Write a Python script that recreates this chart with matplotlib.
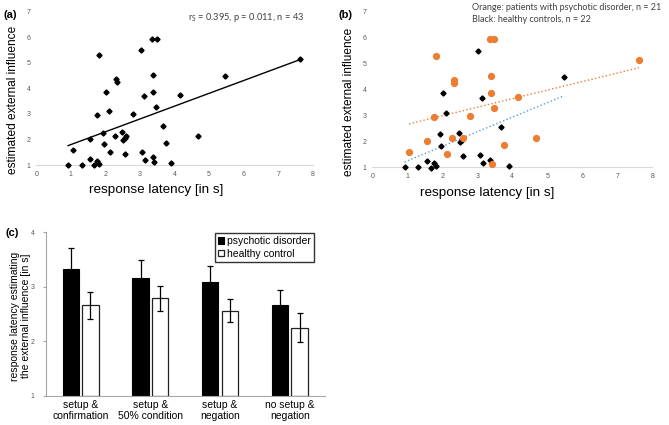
import numpy as np
import matplotlib
matplotlib.use("Agg")
import matplotlib.pyplot as plt

# ---------------- data ----------------
patients_x = [1.05, 1.56, 1.75, 1.81, 2.13, 2.29, 2.32, 2.34, 2.60, 2.80,
              3.36, 3.48, 3.39, 3.38, 3.41, 3.47, 3.76, 4.16, 4.69, 7.62]
patients_y = [1.60, 2.03, 2.95, 5.31, 1.50, 2.14, 4.35, 4.26, 2.12, 2.98,
              5.95, 5.95, 4.51, 3.87, 1.13, 3.28, 1.87, 3.73, 2.13, 5.13]
controls_x = [0.92, 1.31, 1.55, 1.68, 1.75, 1.82, 1.94, 1.96, 2.01, 2.10,
              2.49, 2.51, 2.57, 2.58, 3.03, 3.07, 3.13, 3.15, 3.37, 3.68, 3.90, 5.47]
controls_y = [1.00, 1.00, 1.24, 0.99, 1.17, 1.05, 2.27, 1.82, 3.85, 3.11,
              2.31, 1.96, 2.05, 1.45, 5.50, 1.49, 3.69, 1.18, 1.30, 2.54, 1.06, 4.50]

conditions = ["setup &\nconfirmation", "setup &\n50% condition", "setup &\nnegation", "no setup &\nnegation"]
psych_mean = [3.33, 3.16, 3.08, 2.67]
psych_err = [0.38, 0.34, 0.30, 0.27]
healthy_mean = [2.66, 2.79, 2.56, 2.25]
healthy_err = [0.25, 0.23, 0.21, 0.26]

# ---------------- style ----------------
plt.rcParams['font.family'] = ['Liberation Sans', 'DejaVu Sans']
TICK_C = '#595959'
SPINE_C = '#D9D9D9'
ORANGE = '#ED7D31'
BLUE = '#5B9BD5'

fig = plt.figure(figsize=(6.69, 4.25), dpi=100)
W, H = 669, 425

def ax_px(x0, x1, ytop, ybot):
    return fig.add_axes([x0 / W, 1 - ybot / H, (x1 - x0) / W, (ybot - ytop) / H])

def style_scatter(ax, xlab_x, ylab_x, ylab_y):
    ax.set_xlim(0, 8)
    ax.set_ylim(1, 7)
    ax.set_xticks(range(0, 9))
    ax.set_yticks(range(1, 8))
    for s in ['top', 'right', 'left']:
        ax.spines[s].set_visible(False)
    ax.spines['bottom'].set_color(SPINE_C)
    ax.spines['bottom'].set_linewidth(0.8)
    ax.tick_params(length=0, labelsize=5, colors=TICK_C, pad=4)
    ax.set_xlabel("response latency [in s]", fontsize=9.7, labelpad=5)
    ax.set_ylabel("estimated external influence", fontsize=8.6)
    ax.xaxis.label.set_x(xlab_x)
    ax.yaxis.set_label_coords(ylab_x, ylab_y)
    ax.patch.set_alpha(0)

all_x = np.array(patients_x + controls_x)
all_y = np.array(patients_y + controls_y)

# ---------------- panel (a) ----------------
axa = ax_px(36.3, 312.7, 11.7, 165)
style_scatter(axa, 0.433, -0.063, 0.424)
axa.plot(all_x, all_y, 'D', color='black', markersize=2.6, clip_on=False, zorder=3)
k, b = np.polyfit(all_x, all_y, 1)
xx = np.array([all_x.min(), all_x.max()])
axa.plot(xx, k * xx + b, '-', color='black', linewidth=1.0)
axa.text(0.97, 0.965, r"r$_\mathregular{S}$ = 0.395, p = 0.011, n = 43", transform=axa.transAxes,
         ha='right', va='center', fontsize=6.7, color='#404040', family='Lato')
fig.text(3 / W, 1 - 15 / H, "(a)", fontsize=8, fontweight='bold', va='center')

# ---------------- panel (b) ----------------
axb = ax_px(372.3, 652.3, 11.7, 167.3)
style_scatter(axb, 0.41, -0.062, 0.423)
px, py = np.array(patients_x), np.array(patients_y)
cx, cy = np.array(controls_x), np.array(controls_y)
axb.plot(cx, cy, 'D', color='black', markersize=2.6, clip_on=False, zorder=3)
axb.plot(px, py, 'o', color=ORANGE, markersize=4.2, clip_on=False, zorder=4)
k1, b1 = np.polyfit(px, py, 1)
xx1 = np.array([px.min(), px.max()])
axb.plot(xx1, k1 * xx1 + b1, ':', color=ORANGE, linewidth=1.0)
k2, b2 = np.polyfit(cx, cy, 1)
xx2 = np.array([cx.min(), cx.max()])
axb.plot(xx2, k2 * xx2 + b2, ':', color=BLUE, linewidth=1.0)
fig.text(472 / W, 1 - 7.5 / H, "Orange: patients with psychotic disorder, n = 21", fontsize=6.5,
         color='#404040', family='Lato', va='center')
fig.text(472 / W, 1 - 20 / H, "Black: healthy controls, n = 22", fontsize=6.5,
         color='#404040', family='Lato', va='center')
fig.text(338 / W, 1 - 15 / H, "(b)", fontsize=8, fontweight='bold', va='center')

# ---------------- panel (c) ----------------
axc = ax_px(45.8, 324.6, 232.3, 395.7)
x = np.arange(len(conditions))
bw = 0.234
off = 0.141
axc.bar(x - off, np.array(psych_mean) - 1, bw, bottom=1, color='black', edgecolor='black',
        linewidth=0.8, label='psychotic disorder', zorder=2)
axc.bar(x + off, np.array(healthy_mean) - 1, bw, bottom=1, color='white', edgecolor='#222222',
        linewidth=0.9, label='healthy control', zorder=2)
axc.errorbar(x - off, psych_mean, yerr=psych_err, fmt='none', ecolor='black', elinewidth=0.9,
             capsize=2, capthick=0.9, zorder=3)
axc.errorbar(x + off, healthy_mean, yerr=healthy_err, fmt='none', ecolor='black', elinewidth=0.9,
             capsize=2, capthick=0.9, zorder=3)
axc.set_xlim(-0.5, 3.5)
axc.set_ylim(1, 4)
axc.set_yticks([1, 2, 3, 4])
axc.set_xticks(x)
axc.set_xticklabels(conditions, fontsize=7.5, linespacing=1.1)
for s in ['top', 'right']:
    axc.spines[s].set_visible(False)
for s in ['left', 'bottom']:
    axc.spines[s].set_color('#A6A6A6')
    axc.spines[s].set_linewidth(0.8)
axc.tick_params(axis='y', length=2, labelsize=5, colors=TICK_C, pad=6, color='#A6A6A6')
axc.tick_params(axis='x', length=0, pad=3)
axc.set_ylabel("response latency estimating\nthe external influence [in s]", fontsize=7.5,
               linespacing=1.1)
axc.yaxis.set_label_coords(-0.053, 0.488)
leg = axc.legend(loc='upper right', bbox_to_anchor=(314 / W, 1 - 233 / H), bbox_transform=fig.transFigure,
                 fontsize=7.5, frameon=True, fancybox=False, edgecolor='black', handlelength=0.6,
                 handleheight=0.6, handletextpad=0.3, borderpad=0.3, labelspacing=0.25, borderaxespad=0)
leg.get_frame().set_linewidth(1.0)
fig.text(6 / W, 1 - 233 / H, "(c)", fontsize=8, fontweight='bold', va='center')

fig.savefig("out.png", dpi=100)
